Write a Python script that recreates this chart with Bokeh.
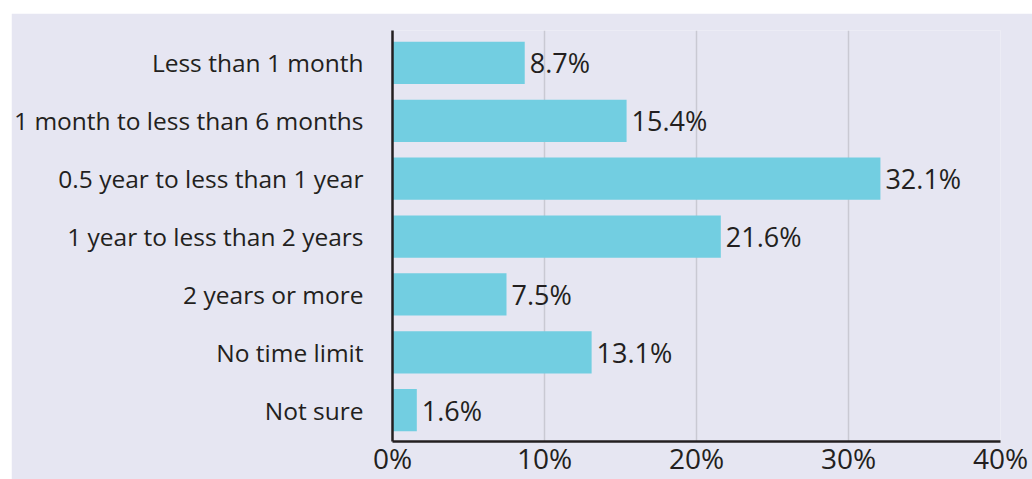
from bokeh.plotting import figure
from bokeh.models import Range1d, FixedTicker, ColumnDataSource
from bokeh.core.properties import value
from bokeh.embed import file_html
from bokeh.resources import INLINE

categories = [
    "Less than 1 month",
    "1 month to less than 6 months",
    "0.5 year to less than 1 year",
    "1 year to less than 2 years",
    "2 years or more",
    "No time limit",
    "Not sure",
]
values = [8.7, 15.4, 32.1, 21.6, 7.5, 13.1, 1.6]
value_labels = ["8.7%", "15.4%", "32.1%", "21.6%", "7.5%", "13.1%", "1.6%"]
x_ticks = [0, 10, 20, 30, 40]
x_tick_labels = ["0%", "10%", "20%", "30%", "40%"]

BG = "#e6e6f2"
TXT = "#231f20"
BAR = "#72cee1"
FONT = "Open Sans"

positions = list(range(len(categories)))
src = ColumnDataSource(dict(y=positions, v=values, lab=value_labels))

p = figure(
    width=1021, height=466,
    x_range=Range1d(0, 40), y_range=Range1d(6.54, -0.56),
    output_backend="svg", toolbar_location=None,
    min_border_left=379, min_border_right=32, min_border_top=17, min_border_bottom=38,
)
p.margin = (13, 0, 0, 11)
p.background_fill_color = BG
p.border_fill_color = BG
p.outline_line_color = None

p.hbar(y="y", right="v", left=0, height=0.73, source=src, color=BAR, line_color=None)
p.text(x="v", y="y", text="lab", source=src, x_offset=5, text_baseline="middle",
       text_align="left", text_font=value(FONT), text_font_size="27px", text_color=TXT)

p.ygrid.visible = False
p.xgrid.grid_line_color = "#c9c9d3"
p.xgrid.grid_line_width = 1.5
p.xgrid.ticker = FixedTicker(ticks=x_ticks)

xa = p.xaxis[0]
xa.ticker = FixedTicker(ticks=x_ticks)
xa.major_label_overrides = {t: l for t, l in zip(x_ticks, x_tick_labels)}
xa.major_tick_line_color = None
xa.minor_tick_line_color = None
xa.major_tick_out = 0
xa.major_tick_in = 0
xa.axis_line_color = TXT
xa.axis_line_width = 2.5
xa.major_label_standoff = -3
xa.major_label_text_font = FONT
xa.major_label_text_font_size = "28px"
xa.major_label_text_color = TXT

ya = p.yaxis[0]
ya.ticker = FixedTicker(ticks=positions)
ya.major_label_overrides = {i: c for i, c in zip(positions, categories)}
ya.major_tick_line_color = None
ya.minor_tick_line_color = None
ya.major_tick_out = 0
ya.major_tick_in = 0
ya.axis_line_color = TXT
ya.axis_line_width = 2.5
ya.major_label_standoff = 29
ya.major_label_text_font = FONT
ya.major_label_text_font_size = "24.5px"
ya.major_label_text_color = TXT

open("out.html", "w").write(file_html(p, INLINE))
